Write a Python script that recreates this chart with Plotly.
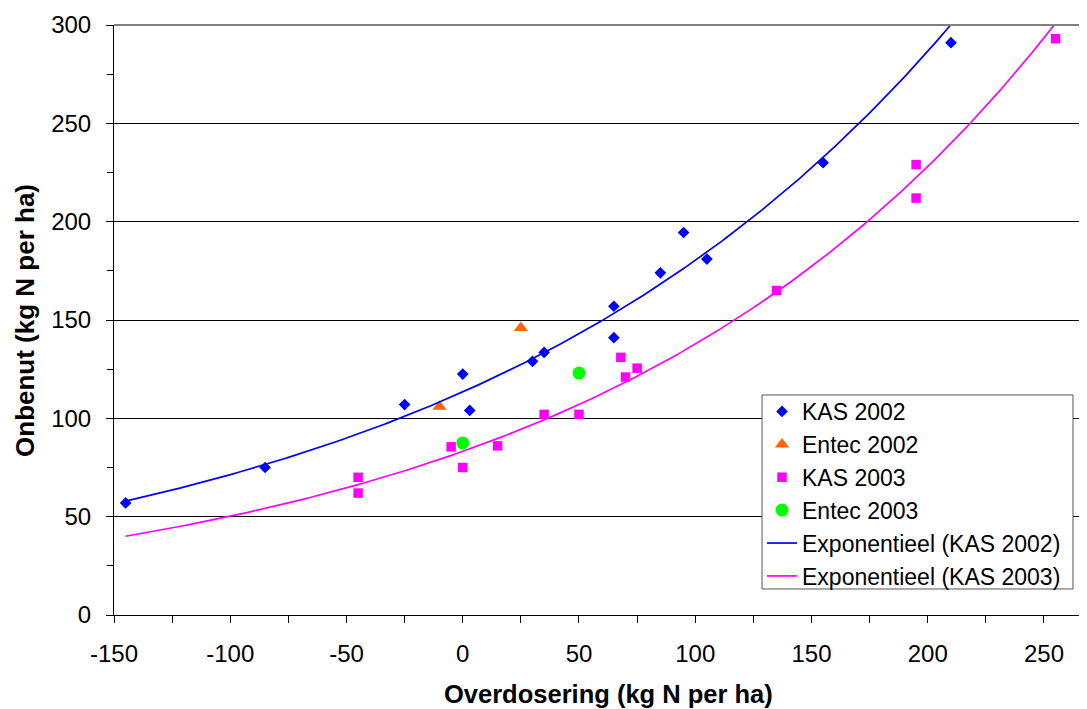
import numpy as np
import plotly.graph_objects as go

# Data
kas2002_x = [-145, -85, -25, 0, 3, 30, 35, 65, 65, 85, 95, 105, 155, 210]
kas2002_y = [57, 75, 107, 122.5, 104, 129, 133.5, 141, 157, 174, 194.5, 181, 230, 291]

entec2002_x = [-10, 25]
entec2002_y = [106, 146]

kas2003_x = [-45, -45, -5, 0, 15, 35, 50, 68, 70, 75, 135, 195, 195, 255]
kas2003_y = [70, 62, 85.5, 75, 86, 102, 102, 131, 121, 125.5, 165, 229, 212, 293]

entec2003_x = [0, 50]
entec2003_y = [87.5, 123]

x_ticks = [-150, -100, -50, 0, 50, 100, 150, 200, 250]
x_ticktext = ["-150", "-100", "-50", "0", "50", "100", "150", "200", "250"]
y_ticks = [0, 50, 100, 150, 200, 250, 300]

def exp_fit(xs, ys, x0, x1):
    b, lna = np.polyfit(np.array(xs, float), np.log(np.array(ys, float)), 1)
    xx = np.linspace(x0, x1, 300)
    return xx, np.exp(lna) * np.exp(b * xx)

fx1, fy1 = exp_fit(kas2002_x, kas2002_y, min(kas2002_x), max(kas2002_x))
fx2, fy2 = exp_fit(kas2003_x, kas2003_y, min(kas2003_x) - 100, max(kas2003_x))

fig = go.Figure()
fig.add_trace(go.Scatter(x=kas2002_x, y=kas2002_y, mode="markers", name="KAS 2002",
                         marker=dict(symbol="diamond", size=9, color="#0000FF")))
fig.add_trace(go.Scatter(x=entec2002_x, y=entec2002_y, mode="markers", name="Entec 2002",
                         marker=dict(symbol="triangle-up", size=12.5, color="#FF6600")))
fig.add_trace(go.Scatter(x=kas2003_x, y=kas2003_y, mode="markers", name="KAS 2003",
                         marker=dict(symbol="square", size=9.5, color="#FF00FF")))
fig.add_trace(go.Scatter(x=entec2003_x, y=entec2003_y, mode="markers", name="Entec 2003",
                         marker=dict(symbol="circle", size=13, color="#00FF00")))
fig.add_trace(go.Scatter(x=fx1, y=fy1, mode="lines", name="Exponentieel (KAS 2002)",
                         line=dict(color="#0000FF", width=1.7)))
fig.add_trace(go.Scatter(x=fx2, y=fy2, mode="lines", name="Exponentieel (KAS 2003)",
                         line=dict(color="#FF00FF", width=1.7)))

# The page body has an 8px margin; the figure is sized to fill the rest of the window.
fig.update_layout(
    width=1079, height=701,
    margin=dict(l=106, r=0, t=17, b=94, autoexpand=False),
    paper_bgcolor="white", plot_bgcolor="white",
    font=dict(family="Liberation Sans, Arial, sans-serif", size=24, color="black"),
    showlegend=True,
    legend=dict(x=0.666, y=0.3814, xanchor="left", yanchor="top",
                bgcolor="rgba(0,0,0,0)", borderwidth=0,
                font=dict(size=23), tracegroupgap=0, itemwidth=30),
    xaxis=dict(range=[-150, 268.5], tickvals=x_ticks, ticktext=x_ticktext,
               ticks="outside", ticklen=7, ticklabelstandoff=10, automargin=False,
               tickcolor="black", showline=True, linecolor="black", linewidth=1,
               showgrid=False, zeroline=False, tickfont=dict(size=24),
               minor=dict(dtick=25, tick0=0, ticks="outside", ticklen=7, tickcolor="black", showgrid=False)),
    yaxis=dict(range=[0, 300], tickvals=y_ticks, ticks="outside", ticklen=7,
               ticklabelstandoff=10, automargin=False, tickfont=dict(size=24),
               tickcolor="black", showline=True, linecolor="black", linewidth=1,
               showgrid=True, gridcolor="black", gridwidth=1, zeroline=False,
               minor=dict(dtick=25, tick0=0, ticks="outside", ticklen=6, tickcolor="black", showgrid=False)),
)
fig.add_annotation(text="<b>Overdosering (kg N per ha)</b>", xref="paper", yref="paper",
                   x=0.5082, y=-0.1335, xanchor="center", yanchor="middle",
                   showarrow=False, font=dict(size=25.5))
fig.add_annotation(text="<b>Onbenut (kg N per ha)</b>", xref="paper", yref="paper",
                   x=-0.0915, y=0.5, xanchor="center", yanchor="middle", textangle=-90,
                   showarrow=False, font=dict(size=26))
fig.add_shape(type="line", xref="paper", yref="paper", x0=0, x1=1, y0=1, y1=1,
              line=dict(color="#808080", width=2))
# legend frame
fig.add_shape(type="rect", xref="paper", yref="paper", x0=0.666, x1=0.9856, y0=0.0441, y1=0.3729,
              fillcolor="white", line=dict(color="#555555", width=1), layer="above")

fig.write_html("out.html")
